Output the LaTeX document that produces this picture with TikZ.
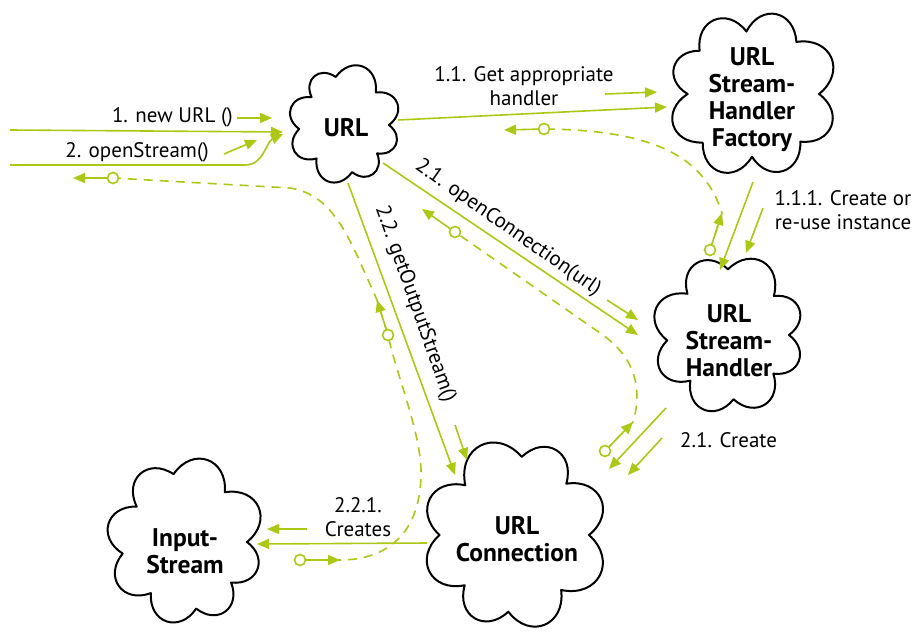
\documentclass[tikz,border=0pt]{standalone}
\usepackage{fontspec}
\setmainfont{PT Sans}
\usetikzlibrary{arrows.meta,calc}
\definecolor{lime}{RGB}{172,200,20}

\tikzset{
  cloudline/.style={draw=black, line width=2pt, line join=round},
  puff/.style={bend right=75, looseness=1.6},
  cloudtext/.style={font=\bfseries\fontsize{25.5}{27}\selectfont, align=center, inner sep=0pt},
  lbl/.style={font=\fontsize{21}{24.5}\selectfont, align=center, inner sep=0pt},
  flow/.style={draw=lime, line width=1.6pt, -{Triangle[length=12pt,width=10pt]}},
  ret/.style={draw=lime, line width=1.6pt, dash pattern=on 9pt off 7pt},
  origin/.style={circle, draw=lime, fill=white, line width=1.6pt, minimum size=11pt, inner sep=0pt},
}

% closed cloud outline: #1 centre, #2/#3 radii of the cusp ellipse, #4 angle/scale list ending at 360/1
\newcommand\cloudoutline[4]{%
  \draw[cloudline, shift={#1}, x=#2pt, y=#3pt] (0:1)
    \foreach \ang/\k in {#4} { to[puff] (\ang:\k) } -- cycle;}

\begin{document}
\begin{tikzpicture}[x=1pt, y=1pt]
  \useasboundingbox[fill=white] (0,0) rectangle (917,-631);

  % objects
  \node[cloudtext] (url) at (346,-128) {URL};
  \node[cloudtext] (fac) at (752,-100) {URL\\Stream-\\Handler\\Factory};
  \node[cloudtext] (hdl) at (729,-341) {URL\\Stream-\\Handler};
  \node[cloudtext] (con) at (517,-539) {URL\\Connection};
  \node[cloudtext] (ins) at (185,-551) {Input-\\Stream};

  \cloudoutline{($(url)+(-2,3)$)}{45}{46}{45/1.0, 100/1.06, 140/0.94, 185/1.0, 230/0.95, 280/1.04, 320/0.96, 360/1}
  \cloudoutline{($(fac)+(0,6)$)}{67}{66}{50/1.03, 95/0.95, 140/1.02, 180/0.96, 225/1.04, 270/0.95, 315/1.02, 360/1}
  \cloudoutline{($(hdl)+(-1,6)$)}{61}{62}{40/0.98, 90/1.06, 135/0.94, 185/1.0, 230/0.96, 275/1.04, 320/0.97, 360/1}
  \cloudoutline{($(con)+(-2,4)$)}{74}{74}{45/0.98, 85/1.06, 135/0.95, 180/1.02, 225/0.96, 265/1.04, 310/0.97, 360/1}
  \cloudoutline{($(ins)+(0,9)$)}{62}{65}{50/1.0, 100/1.06, 145/0.95, 190/1.02, 235/0.96, 280/1.04, 320/0.97, 360/1}

  % free ends at the left margin
  \coordinate (inA) at (10,-130);
  \coordinate (inB) at (10,-165);
  \coordinate (outL) at (73,-178);

  % calls
  \draw[flow] (inA) -- ($(url)+(-63,-4)$);
  \draw[flow] (inB) -- ++(235,0) to[out=0,in=205] ($(url)+(-63,-6)$);
  \draw[flow] ($(url)+(52,8)$) -- ($(fac)+(-85,-7)$);
  \draw[flow] ($(fac)+(1,-82)$) -- ($(hdl)+(-9,71)$);
  \draw[flow] ($(url)+(37,-35)$) -- ($(hdl)+(-91,6)$);
  \draw[flow] ($(hdl)+(-63,-67)$) -- ($(con)+(92,70)$);
  \draw[flow] ($(url)+(2,-55)$) -- ($(con)+(-62,64)$);
  \draw[flow] ($(con)+(-90,-4)$) -- ($(ins)+(72,7)$);

  % labels with their direction hints
  \node[lbl, anchor=east] (l1) at (233,-117) {1. new URL ()};
  \draw[flow] ($(l1.east)+(4,-1)$) -- ++(35,0);
  \node[lbl, anchor=east] (l2) at (209,-152) {2. openStream()};
  \draw[flow] ($(l2.east)+(15,-2)$) -- ++(33,14);
  \node[lbl] (l3) at (524,-86) {1.1. Get appropriate\\handler};
  \draw[flow] ($(l3)+(81,-8)$) -- ++(52,2);
  \node[lbl] (l4) at (843,-210) {1.1.1. Create or\\re-use instance};
  \draw[flow] ($(l4)+(-80,2)$) -- ++(-17,-45);
  \node[lbl, rotate=-35] (l5) at (508,-228) {2.1. openConnection(url)};
  \draw[flow] ($(l5)+(99,-72)$) -- ++(31,-20);
  \node[lbl, rotate=-70.5] (l6) at (415,-304) {2.2. getOutputStream()};
  \draw[flow] ($(l6)+(40,-121)$) -- ++(12,-35);
  \node[lbl, anchor=west] (l7) at (680,-440) {2.1. Create};
  \draw[flow] ($(l7.west)+(-18,2)$) -- ++(-34,-37);
  \node[lbl] (l8) at (358,-517) {2.2.1.\\Creates};
  \draw[flow] ($(l8)+(-51,-12)$) -- ++(-40,0);

  % return paths
  \coordinate (o1) at ($(ins)+(115,-9)$);
  \coordinate (o2) at (388,-335);
  \coordinate (o3) at (113,-178);
  \coordinate (o4) at ($(hdl)+(-19,91)$);
  \coordinate (o5) at ($(url)+(198,-1)$);
  \coordinate (o6) at ($(con)+(88,88)$);
  \coordinate (o7) at ($(url)+(109,-104)$);

  \draw[ret] (o1) -- (340,-560) .. controls (390,-560) and (422,-530) .. (421,-470)
     .. controls (420,-430) and (395,-370) .. (o2) -- (377,-300)
     .. controls (350,-240) and (335,-195) .. (290,-188) -- (o3);
  \draw[ret] (o4) -- (722,-213) .. controls (705,-160) and (660,-130) .. (o5);
  \draw[ret] (o6) -- (633,-422) .. controls (641,-395) and (640,-360) .. (600,-333) -- (o7);

  \draw[flow] (o1) -- (340,-560);
  \draw[flow] (o2) -- (377,-300);
  \draw[flow] (o3) -- (outL);
  \draw[flow] (o4) -- (722,-213);
  \draw[flow] (o5) -- ($(url)+(158,-2)$);
  \draw[flow] (o6) -- (633,-422);
  \draw[flow] (o7) -- ($(url)+(76,-81)$);

  \foreach \o in {o1,o2,o3,o4,o5,o6,o7}
    \node[origin] (m\o) at (\o) {};
\end{tikzpicture}
\end{document}
